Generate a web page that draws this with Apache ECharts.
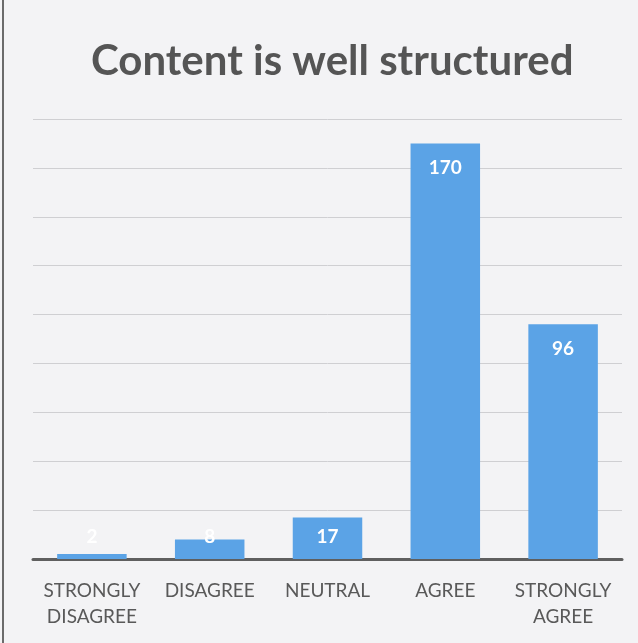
<!DOCTYPE html>
<html><head><meta charset="utf-8">
<script src="https://cdn.jsdelivr.net/npm/echarts@6/dist/echarts.min.js"></script>
<style>
html,body{margin:0;padding:0;background:#ffffff;}
#wrap{position:absolute;left:0;top:0;width:638px;height:643px;background:#f3f3f5;}
#edge{position:absolute;left:2px;top:0;width:2px;height:643px;background:#6b6b6b;}
#chart{position:absolute;left:0;top:0;width:638px;height:643px;}
</style></head>
<body>
<div id="wrap"></div><div id="edge"></div>
<div id="chart"></div>
<script>
const titleText = 'Content is well structured';
const categories = ['STRONGLY\nDISAGREE', 'DISAGREE', 'NEUTRAL', 'AGREE', 'STRONGLY\nAGREE'];
const values = [2, 8, 17, 170, 96];
const yMax = 180, yInterval = 20;

const chart = echarts.init(document.getElementById('chart'), null, {renderer: 'canvas'});
const data = values.map(v => ({
  value: v,
  label: v < 20
    ? {position: 'insideBottom', distance: 13}
    : {position: 'insideTop', distance: 15}
}));
chart.setOption({
  backgroundColor: 'transparent',
  title: {
    text: titleText, left: 86, top: 35,
    textStyle: {fontFamily: 'Lato', fontWeight: 'bold', fontSize: 42, color: '#555555'}
  },
  grid: {left: 33, right: 16, top: 119, bottom: 84},
  xAxis: {
    type: 'category', data: categories,
    axisLine: {lineStyle: {color: '#5f5f5f', width: 3}},
    axisTick: {show: false},
    axisLabel: {color: '#595959', fontFamily: 'Lato', fontSize: 19, margin: 19, lineHeight: 26, interval: 0}
  },
  yAxis: {
    type: 'value', min: 0, max: yMax, interval: yInterval,
    axisLabel: {show: false}, axisLine: {show: false}, axisTick: {show: false},
    splitLine: {lineStyle: {color: '#cfcfd2', width: 1}}
  },
  series: [{
    type: 'bar', data: data, barWidth: '59%',
    itemStyle: {color: '#5ba3e6'},
    label: {show: true, color: '#ffffff', fontFamily: 'Lato', fontWeight: 'bold', fontSize: 19}
  }]
});
</script>
</body></html>
